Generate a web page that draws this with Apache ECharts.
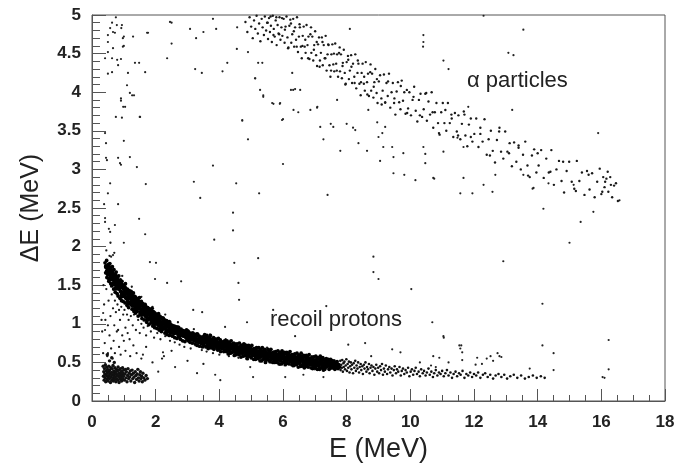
<!DOCTYPE html>
<html><head><meta charset="utf-8">
<script src="https://cdn.jsdelivr.net/npm/echarts@6/dist/echarts.min.js"></script>
<style>html,body{margin:0;padding:0;background:#fff}#c{width:695px;height:470px}</style>
</head><body><div id="c"></div>
<script>
// Axis ranges (MeV)
const xRange = [0, 18];
const yRange = [0, 5];
const xLabel = 'E (MeV)';
const yLabel = 'ΔE (MeV)';
const annotations = ['α particles', 'recoil protons'];

// recoil proton band, dense part [E, dE]
const protonCore = [
[0.41,1.79],[0.43,1.66],[0.44,1.75],[0.46,1.82],[0.47,1.60],[0.49,1.71],[0.50,1.64],[0.52,1.77],[0.53,1.55],[0.55,1.69],[0.56,1.78],[0.57,1.61],[0.59,1.52],[0.60,1.70],
[0.61,1.66],[0.62,1.49],[0.64,1.74],[0.65,1.57],[0.66,1.62],[0.68,1.45],[0.69,1.70],[0.70,1.53],[0.72,1.64],[0.73,1.41],[0.75,1.58],[0.76,1.67],[0.78,1.50],[0.79,1.39],[0.80,1.61],
[0.81,1.54],[0.82,1.36],[0.84,1.62],[0.85,1.45],[0.86,1.51],[0.88,1.33],[0.89,1.57],[0.90,1.42],[0.92,1.48],[0.93,1.30],[0.94,1.55],[0.96,1.39],[0.97,1.46],[0.98,1.29],[1.00,1.50],
[1.01,1.37],[1.03,1.46],[1.04,1.27],[1.05,1.52],[1.07,1.34],[1.08,1.41],[1.10,1.24],[1.11,1.45],[1.12,1.30],[1.14,1.38],[1.15,1.21],[1.17,1.43],[1.18,1.33],[1.19,1.27],[1.20,1.40],
[1.22,1.25],[1.23,1.42],[1.25,1.30],[1.26,1.19],[1.27,1.36],[1.29,1.27],[1.30,1.40],[1.32,1.16],[1.33,1.31],[1.34,1.24],[1.36,1.35],[1.37,1.14],[1.38,1.28],[1.40,1.21],
[1.41,1.33],[1.42,1.16],[1.44,1.26],[1.45,1.10],[1.46,1.30],[1.48,1.20],[1.49,1.34],[1.51,1.13],[1.52,1.23],[1.54,1.17],[1.55,1.29],[1.57,1.07],[1.58,1.19],[1.60,1.26],
[1.61,1.12],[1.63,1.22],[1.64,1.05],[1.66,1.16],[1.67,1.25],[1.69,1.09],[1.70,1.18],[1.72,1.02],[1.73,1.13],[1.75,1.21],[1.76,1.07],[1.78,1.15],[1.79,0.99],[1.80,1.19],
[1.82,1.09],[1.83,1.17],[1.85,1.01],[1.86,1.13],[1.88,1.06],[1.89,1.20],[1.91,0.97],[1.92,1.10],[1.94,1.03],[1.95,1.14],[1.97,0.95],[1.98,1.07],[2.00,1.12],
[2.01,1.00],[2.03,1.11],[2.04,0.94],[2.06,1.05],[2.08,0.98],[2.09,1.13],[2.11,0.92],[2.13,1.03],[2.14,0.97],[2.16,1.08],[2.18,0.90],[2.19,1.01],[2.21,1.06],[2.23,0.93],[2.24,1.02],
[2.26,0.96],[2.28,1.05],[2.29,0.88],[2.31,0.99],[2.33,0.93],[2.34,1.04],[2.36,0.86],[2.38,0.97],[2.40,0.91],[2.41,1.01],[2.43,0.85],[2.45,0.95],[2.47,0.99],[2.48,0.88],[2.50,0.93],
[2.52,0.98],[2.53,0.84],[2.55,0.92],[2.57,0.87],[2.59,0.97],[2.60,0.82],[2.62,0.93],[2.64,0.88],[2.65,0.96],[2.67,0.81],[2.69,0.90],[2.71,0.85],[2.72,0.95],[2.74,0.83],
[2.76,0.89],[2.78,0.80],[2.80,0.93],[2.81,0.85],[2.83,0.88],[2.85,0.78],[2.87,0.91],[2.88,0.84],[2.90,0.87],[2.92,0.77],[2.94,0.89],[2.95,0.82],[2.97,0.92],[2.99,0.80],
[3.01,0.85],[3.03,0.78],[3.05,0.89],[3.06,0.82],[3.08,0.76],[3.10,0.87],[3.12,0.80],[3.13,0.84],[3.15,0.75],[3.17,0.88],[3.19,0.81],[3.20,0.78],[3.22,0.86],[3.24,0.74],
[3.26,0.83],[3.28,0.77],[3.30,0.85],[3.31,0.72],[3.33,0.80],[3.35,0.76],[3.37,0.84],[3.38,0.71],[3.40,0.79],[3.42,0.82],[3.44,0.74],[3.45,0.78],[3.47,0.70],[3.49,0.83],
[3.51,0.82],[3.52,0.72],[3.54,0.86],[3.55,0.76],[3.56,0.83],[3.58,0.70],[3.59,0.79],[3.61,0.85],[3.62,0.73],[3.63,0.81],[3.65,0.68],[3.66,0.79],[3.68,0.71],[3.69,0.82],
[3.71,0.75],[3.72,0.85],[3.74,0.69],[3.75,0.79],[3.76,0.72],[3.78,0.80],[3.79,0.69],[3.80,0.75],[3.82,0.82],[3.83,0.67],[3.85,0.76],[3.86,0.71],[3.88,0.80],[3.89,0.72],
[3.91,0.78],[3.92,0.69],[3.93,0.77],[3.95,0.66],[3.96,0.74],[3.97,0.81],[3.99,0.67],[4.00,0.75],[4.02,0.70],[4.03,0.79],[4.04,0.64],[4.06,0.73],[4.08,0.76],[4.09,0.68],
[4.11,0.69],[4.13,0.77],[4.14,0.64],[4.15,0.73],[4.17,0.78],[4.18,0.66],[4.19,0.74],[4.21,0.70],[4.22,0.64],[4.24,0.78],[4.25,0.68],[4.27,0.74],[4.28,0.61],[4.30,0.76],
[4.31,0.76],[4.32,0.66],[4.34,0.71],[4.35,0.62],[4.37,0.78],[4.38,0.68],[4.40,0.73],[4.41,0.63],[4.42,0.71],[4.44,0.66],[4.45,0.75],[4.47,0.59],[4.48,0.73],[4.50,0.63],
[4.50,0.65],[4.52,0.73],[4.53,0.60],[4.55,0.69],[4.56,0.74],[4.58,0.62],[4.59,0.70],[4.60,0.66],[4.62,0.60],[4.63,0.75],[4.65,0.65],[4.66,0.70],[4.68,0.57],[4.69,0.72],
[4.71,0.72],[4.73,0.62],[4.74,0.67],[4.75,0.58],[4.77,0.74],[4.78,0.64],[4.79,0.69],[4.81,0.59],[4.82,0.67],[4.84,0.62],[4.85,0.72],[4.87,0.55],[4.88,0.69],[4.90,0.59],
[4.91,0.64],[4.92,0.72],[4.94,0.58],[4.95,0.67],[4.97,0.62],[4.98,0.69],[5.00,0.56],[5.01,0.65],[5.02,0.72],[5.04,0.59],[5.05,0.67],[5.07,0.62],[5.08,0.54],[5.10,0.67],
[5.11,0.59],[5.13,0.67],[5.14,0.54],[5.15,0.63],[5.17,0.69],[5.18,0.57],[5.19,0.65],[5.21,0.61],[5.22,0.55],[5.24,0.69],[5.25,0.59],[5.27,0.65],[5.28,0.52],[5.30,0.67],
[5.30,0.57],[5.32,0.61],[5.33,0.52],[5.35,0.69],[5.36,0.59],[5.38,0.64],[5.39,0.54],[5.40,0.62],[5.42,0.57],[5.43,0.67],[5.45,0.50],[5.46,0.64],[5.48,0.54],[5.49,0.60],
[5.51,0.59],[5.53,0.67],[5.54,0.53],[5.55,0.62],[5.57,0.57],[5.58,0.64],[5.59,0.51],[5.61,0.61],[5.62,0.67],[5.64,0.54],[5.65,0.62],[5.67,0.57],[5.68,0.50],[5.70,0.63],
[5.71,0.55],[5.72,0.63],[5.74,0.50],[5.75,0.58],[5.77,0.64],[5.78,0.52],[5.80,0.60],[5.81,0.56],[5.82,0.50],[5.84,0.65],[5.85,0.55],[5.87,0.61],[5.88,0.48],[5.90,0.63],
[5.91,0.62],[5.93,0.52],[5.94,0.57],[5.95,0.48],[5.97,0.65],[5.98,0.55],[5.99,0.60],[6.01,0.50],[6.02,0.58],[6.04,0.53],[6.05,0.63],[6.07,0.47],[6.08,0.61],[6.10,0.51],
[6.10,0.56],[6.12,0.63],[6.13,0.49],[6.15,0.58],[6.16,0.53],[6.18,0.61],[6.19,0.48],[6.20,0.57],[6.22,0.64],[6.23,0.51],[6.25,0.59],[6.26,0.54],[6.28,0.47],[6.29,0.60],
[6.31,0.51],[6.33,0.59],[6.34,0.46],[6.35,0.55],[6.37,0.61],[6.38,0.49],[6.39,0.57],[6.41,0.53],[6.42,0.47],[6.44,0.62],[6.45,0.52],[6.47,0.57],[6.48,0.44],[6.50,0.59],
[6.51,0.59],[6.52,0.49],[6.54,0.54],[6.55,0.45],[6.57,0.62],[6.58,0.52],[6.60,0.56],[6.61,0.46],[6.62,0.54],[6.64,0.49],[6.65,0.59],[6.67,0.43],[6.68,0.57],[6.70,0.47],
[6.71,0.52],[6.73,0.59],[6.74,0.45],[6.75,0.54],[6.77,0.49],[6.78,0.57],[6.79,0.44],[6.81,0.53],[6.82,0.60],[6.84,0.47],[6.85,0.55],[6.87,0.50],[6.88,0.43],[6.90,0.55],
[6.90,0.47],[6.92,0.55],[6.93,0.42],[6.95,0.51],[6.96,0.57],[6.98,0.45],[6.99,0.53],[7.00,0.49],[7.02,0.43],[7.03,0.58],[7.05,0.48],[7.06,0.54],[7.08,0.41],[7.09,0.56],
[7.11,0.55],[7.13,0.45],[7.14,0.50],[7.15,0.41],[7.17,0.58],[7.18,0.48],[7.19,0.53],[7.21,0.43],[7.22,0.51],[7.24,0.46],[7.25,0.56],[7.27,0.40],[7.28,0.53],[7.30,0.44],
[7.31,0.41],[7.32,0.54],[7.34,0.48],[7.36,0.55],[7.37,0.44],[7.39,0.51],[7.41,0.46],[7.43,0.54],[7.45,0.41],[7.47,0.50],[7.48,0.45],
[7.51,0.53],[7.53,0.43],[7.55,0.49],[7.58,0.46],[7.60,0.52],[7.63,0.41],[7.65,0.48],[7.68,0.45],[7.70,0.51],[7.73,0.42],[7.75,0.47],[7.78,0.44]
];

// ridge of the proton band (densest events)
const protonRidge = [
[0.45,1.74],[0.50,1.65],[0.55,1.65],[0.60,1.66],[0.65,1.58],[0.70,1.52],[0.75,1.56],[0.80,1.51],[0.85,1.46],[0.90,1.50],[0.95,1.39],[1.00,1.41],
[1.05,1.40],[1.10,1.33],[1.15,1.34],[1.20,1.36],[1.25,1.29],[1.30,1.24],[1.35,1.29],[1.40,1.25],[1.45,1.20],[1.50,1.25],[1.55,1.15],[1.60,1.18],
[1.65,1.18],[1.70,1.11],[1.75,1.13],[1.80,1.15],[1.85,1.09],[1.90,1.04],[1.95,1.10],[2.00,1.06],[2.05,1.02],[2.10,1.08],[2.15,0.98],[2.20,1.01],
[2.25,1.01],[2.30,0.95],[2.35,0.97],[2.40,1.00],[2.45,0.94],[2.50,0.90],[2.55,0.96],[2.60,0.93],[2.65,0.89],[2.70,0.95],[2.75,0.86],[2.80,0.90],
[2.85,0.90],[2.90,0.85],[2.95,0.87],[3.00,0.90],[3.05,0.84],[3.10,0.81],[3.15,0.87],[3.20,0.84],[3.25,0.80],[3.30,0.86],[3.35,0.77],[3.40,0.81],
[3.45,0.82],[3.50,0.76],[3.55,0.78],[3.60,0.82],[3.65,0.76],[3.70,0.72],[3.75,0.79],[3.80,0.76],[3.85,0.73],[3.90,0.79],[3.95,0.70],[4.00,0.74],
[4.05,0.75],[4.10,0.69],[4.15,0.72],[4.20,0.75],[4.25,0.70],[4.30,0.66],[4.35,0.73],[4.40,0.70],[4.45,0.67],[4.50,0.73],[4.55,0.64],[4.60,0.68],
[4.65,0.69],[4.70,0.63],[4.75,0.66],[4.80,0.69],[4.85,0.64],[4.90,0.60],[4.95,0.67],[5.00,0.64],[5.05,0.61],[5.10,0.67],[5.15,0.58],[5.20,0.62],
[5.25,0.63],[5.30,0.58],[5.35,0.60],[5.40,0.64],[5.45,0.59],[5.50,0.55],[5.55,0.62],[5.60,0.60],[5.65,0.56],[5.70,0.62],[5.75,0.54],[5.80,0.57],
[5.85,0.59],[5.90,0.54],[5.95,0.56],[6.00,0.60],[6.05,0.55],[6.10,0.52],[6.15,0.58],[6.20,0.56],[6.25,0.53],[6.30,0.59],[6.35,0.51],[6.40,0.54],
[6.45,0.56],[6.50,0.50],[6.55,0.53],[6.60,0.57],[6.65,0.51],[6.70,0.48],[6.75,0.54],[6.80,0.52],[6.85,0.49],[6.90,0.55],[6.95,0.47],[7.00,0.50],
[7.05,0.52],[7.10,0.47],[7.15,0.49],[7.20,0.53],[7.25,0.48],[7.30,0.45],[7.35,0.51],[7.40,0.49],[7.45,0.46],[7.50,0.52],[7.55,0.44],[7.60,0.47],[7.65,0.49],[7.70,0.44],
[0.48,1.68],[0.58,1.66],[0.68,1.52],[0.78,1.52],[0.88,1.50],[0.98,1.40],[1.08,1.34],[1.18,1.38],[1.28,1.24],[1.38,1.27],[1.48,1.21],[1.58,1.15],
[1.68,1.12],[1.78,1.14],[1.88,1.04],[1.98,1.06],[2.08,1.07],[2.18,0.99],[2.28,0.95],[2.38,1.01],[2.48,0.89],[2.58,0.94],[2.68,0.90],[2.78,0.87],
[2.88,0.86],[2.98,0.89],[3.08,0.80],[3.18,0.84],[3.28,0.85],[3.38,0.79],[3.48,0.76],[3.58,0.83],[3.68,0.72],[3.78,0.77],[3.88,0.74],[3.98,0.71],
[4.08,0.70],[4.18,0.74],[4.28,0.66],[4.38,0.70],[4.48,0.72],[4.58,0.66],[4.68,0.63],[4.78,0.70],[4.88,0.59],[4.98,0.65],[5.08,0.62],[5.18,0.59],
[5.28,0.59],[5.38,0.63],[5.48,0.55],[5.58,0.60],[5.68,0.61],[5.78,0.56],[5.88,0.54],[5.98,0.61],[6.08,0.51],[6.18,0.57],[6.28,0.55],[6.38,0.52],
[6.48,0.51],[6.58,0.56],[6.68,0.47],[6.78,0.52],[6.88,0.54],[6.98,0.49],[7.08,0.47],[7.18,0.54],[7.28,0.44],[7.38,0.50],[7.48,0.48],[7.58,0.45],[7.68,0.45],
[0.52,1.74],[0.62,1.67],[0.72,1.63],[0.82,1.55],[0.92,1.51],[1.02,1.47],[1.12,1.41],[1.22,1.38],[1.32,1.35],[1.42,1.29],[1.52,1.27],[1.62,1.24],
[1.72,1.20],[1.82,1.18],[1.92,1.15],[2.02,1.10],[2.12,1.09],[2.22,1.07],[2.32,1.03],[2.42,1.02],
[0.57,1.71],[0.67,1.64],[0.77,1.59],[0.87,1.54],[0.97,1.48],[1.07,1.44],[1.17,1.40],[1.27,1.35],[1.37,1.32],[1.47,1.28],[1.57,1.24],[1.67,1.22],
[1.77,1.19],[1.87,1.15],[1.97,1.13],
[0.55,1.58],[0.75,1.46],[0.95,1.36],[1.15,1.27],[1.35,1.19],[1.55,1.12],[1.75,1.06],[1.95,1.00],[2.15,0.94],[2.35,0.90]
];

// points spread around the proton band and the diffuse region below it
const protonHalo = [
[0.45,1.45],[0.52,1.30],[0.55,1.88],[0.58,1.10],[0.62,1.38],[0.66,1.20],[0.70,0.98],[0.72,1.30],[0.75,1.15],[0.80,1.25],[0.82,0.92],[0.85,1.18],[0.88,1.05],[0.92,1.22],[0.95,0.85],[0.98,1.12],
[1.02,1.18],[1.05,0.95],[1.10,1.12],[1.15,1.05],[1.18,0.80],[1.22,1.10],[1.28,0.98],[1.32,1.12],[1.38,0.92],[1.45,1.05],[1.50,0.88],[1.55,1.00],[1.62,0.95],[1.70,0.85],[1.75,0.97],[1.85,0.90],
[1.95,0.82],[2.05,0.88],[2.15,0.80],[2.30,0.84],[2.45,0.78],[2.60,0.76],[2.75,0.73],[2.90,0.70],[3.10,0.68],[3.25,0.72],[3.45,0.66],[3.60,0.64],[3.80,0.62],[4.00,0.60],[4.30,0.58],[4.60,0.56],
[4.90,0.54],[5.30,0.52],[5.60,0.50],[5.90,0.47],[6.30,0.45],[6.60,0.44],[7.00,0.41],
[0.95,1.62],[1.25,1.48],[1.55,1.35],[1.90,1.22],[2.30,1.12],[2.70,1.02],[3.20,0.93],[3.70,0.86],[4.20,0.80],[4.80,0.74],[5.50,0.69],[6.20,0.63],[6.90,0.58],[7.50,0.55],
[0.35,0.62],[0.40,0.75],[0.48,0.58],[0.55,0.85],[0.60,0.68],[0.65,0.55],[0.68,0.78],[0.72,0.62],[0.78,0.90],[0.85,0.70],[0.90,0.60],[1.00,0.78],[1.05,0.65],[1.12,0.88],[1.20,0.58],[1.30,0.72],
[1.40,0.62],[1.55,0.55],[1.70,0.70],[1.90,0.50],[2.20,0.55],[2.50,0.65],[3.00,0.52],[3.50,0.48],[0.30,1.05],[0.32,0.90],[0.38,1.25],[0.42,1.05],[0.50,0.98],[0.36,1.50],[0.45,1.95],[0.58,2.05],[0.70,1.92]
];

// proton band, sparser high-energy tail
const protonTail = [
[7.80,0.52],[7.81,0.40],[7.83,0.47],[7.85,0.43],[7.86,0.53],[7.88,0.38],[7.90,0.49],[7.91,0.44],[7.93,0.51],[7.95,0.41],[7.97,0.46],[7.99,0.54],[8.01,0.39],[8.03,0.48],[8.05,0.43],[8.07,0.51],
[8.09,0.37],[8.11,0.45],[8.13,0.50],[8.15,0.41],[8.17,0.47],[8.20,0.36],[8.22,0.49],[8.24,0.43],[8.27,0.52],[8.29,0.39],[8.31,0.46],[8.34,0.42],[8.36,0.50],[8.39,0.37],[8.41,0.44],[8.44,0.48],
[8.46,0.40],[8.49,0.45],[8.51,0.35],[8.54,0.47],[8.56,0.42],[8.59,0.50],[8.62,0.38],[8.64,0.44],[8.67,0.41],[8.70,0.48],[8.72,0.36],[8.75,0.43],[8.78,0.46],[8.81,0.39],[8.84,0.44],[8.87,0.34],
[8.90,0.42],[8.93,0.47],[8.96,0.38],[8.99,0.43],
[9.02,0.36],[9.05,0.45],[9.08,0.40],[9.11,0.48],[9.14,0.34],[9.17,0.42],[9.20,0.38],[9.23,0.46],[9.27,0.35],[9.30,0.41],[9.34,0.44],[9.37,0.37],[9.41,0.42],[9.44,0.33],[9.48,0.40],[9.51,0.45],
[9.55,0.36],[9.58,0.41],[9.62,0.38],[9.66,0.44],[9.70,0.33],[9.73,0.39],[9.77,0.42],[9.81,0.35],[9.85,0.40],[9.89,0.37],[9.93,0.43],[9.97,0.32],
[10.01,0.38],[10.05,0.41],[10.09,0.34],[10.13,0.39],[10.17,0.43],[10.21,0.35],[10.26,0.38],[10.30,0.32],[10.34,0.41],[10.39,0.36],[10.43,0.39],[10.48,0.33],[10.52,0.37],[10.57,0.42],[10.61,0.34],
[10.66,0.38],[10.71,0.31],[10.75,0.36],[10.80,0.40],[10.85,0.33],[10.90,0.37],[10.95,0.35],
[11.00,0.39],[11.05,0.32],[11.10,0.36],[11.15,0.40],[11.20,0.33],[11.26,0.37],[11.31,0.30],[11.36,0.35],[11.42,0.38],[11.47,0.32],[11.53,0.36],[11.58,0.34],[11.64,0.39],[11.70,0.30],[11.76,0.35],
[11.82,0.33],[11.88,0.37],[11.94,0.31],[12.00,0.35],[12.07,0.33],
[12.13,0.37],[12.20,0.30],[12.28,0.34],[12.35,0.36],[12.43,0.31],[12.51,0.34],[12.60,0.29],[12.68,0.33],[12.77,0.35],[12.86,0.31],[12.95,0.34],[13.04,0.29],[13.14,0.32],[13.25,0.34],[13.36,0.30],
[13.48,0.33],[13.60,0.29],[13.72,0.31],[13.85,0.33],[13.97,0.30],[14.10,0.32],[14.22,0.30]
];

// low-energy blob near E < 1.8 MeV
const lowBlob = [
[0.35,0.45],[0.36,0.32],[0.37,0.38],[0.38,0.27],[0.39,0.42],[0.40,0.35],[0.41,0.30],[0.42,0.47],[0.43,0.25],[0.44,0.39],[0.45,0.33],[0.46,0.44],[0.47,0.28],[0.48,0.36],[0.49,0.41],[0.50,0.31],
[0.51,0.26],[0.52,0.38],[0.53,0.45],[0.54,0.33],[0.55,0.29],[0.56,0.40],[0.57,0.35],[0.58,0.24],[0.59,0.43],[0.60,0.31],[0.61,0.37],[0.62,0.27],[0.63,0.42],[0.64,0.34],[0.65,0.30],[0.66,0.46],
[0.67,0.26],[0.68,0.39],[0.69,0.33],[0.70,0.36],[0.71,0.28],[0.72,0.43],[0.73,0.31],[0.74,0.38],[0.75,0.25],[0.76,0.35],[0.77,0.41],[0.78,0.29],[0.79,0.33],[0.80,0.39],[0.81,0.27],[0.82,0.44],
[0.83,0.32],[0.84,0.36],[0.85,0.24],[0.86,0.40],[0.87,0.30],[0.88,0.34],[0.89,0.42],[0.90,0.28],[0.91,0.37],[0.92,0.31],[0.93,0.26],[0.94,0.39],[0.95,0.34],[0.96,0.43],[0.97,0.29],[0.98,0.36],
[0.99,0.32],[1.00,0.40],[1.02,0.27],[1.04,0.35],[1.05,0.41],[1.07,0.30],[1.08,0.38],[1.10,0.25],[1.12,0.33],[1.13,0.42],[1.15,0.29],[1.17,0.36],[1.18,0.31],[1.20,0.39],[1.22,0.26],[1.24,0.34],
[1.26,0.40],[1.28,0.29],[1.30,0.36],[1.32,0.31],[1.34,0.24],[1.36,0.38],[1.38,0.33],[1.40,0.28],[1.42,0.35],[1.44,0.41],[1.46,0.30],[1.48,0.26],[1.50,0.34],[1.52,0.38],[1.54,0.29],[1.56,0.32],
[1.58,0.25],[1.60,0.36],[1.63,0.30],[1.66,0.27],[1.70,0.33],[1.74,0.29],[0.55,0.52],[0.62,0.56],[0.70,0.50],[0.48,0.60]
];

// alpha particle band
const alphaBand = [
[4.82,4.91],[4.88,4.78],[4.95,4.97],[5.00,4.85],[5.05,4.70],[5.09,4.93],[5.13,4.82],[5.17,4.99],[5.21,4.76],[5.25,4.89],[5.29,4.66],[5.33,4.95],[5.36,4.84],[5.40,4.74],[5.43,4.98],[5.47,4.80],
[5.50,4.90],[5.53,4.69],[5.56,4.96],[5.59,4.78],[5.62,4.86],[5.65,4.65],[5.68,4.99],[5.71,4.82],[5.74,4.72],[5.77,4.93],[5.80,4.61],[5.83,4.87],[5.86,4.76],[5.89,4.97],[5.92,4.68],[5.95,4.84],[5.98,4.73],
[6.02,4.95],[6.05,4.64],[6.08,4.85],[6.11,4.98],[6.14,4.71],[6.17,4.58],[6.20,4.86],[6.23,4.94],[6.26,4.64],[6.29,4.75],[6.32,4.95],[6.35,4.59],[6.38,4.84],[6.41,4.68],[6.44,4.97],[6.47,4.52],
[6.50,4.72],[6.53,4.84],[6.56,4.59],[6.59,4.44],[6.62,4.73],[6.65,4.85],[6.68,4.59],[6.71,4.51],[6.74,4.87],[6.77,4.61],[6.80,4.72],[6.83,4.43],[6.86,4.75],[6.89,4.51],[6.92,4.72],[6.95,4.41],[6.98,4.61],
[7.01,4.79],[7.04,4.48],[7.07,4.34],[7.10,4.62],[7.13,4.71],[7.16,4.41],[7.19,4.51],[7.22,4.71],[7.25,4.35],[7.28,4.61],[7.31,4.44],[7.34,4.73],[7.37,4.28],[7.40,4.49],[7.43,4.61],[7.46,4.35],
[7.49,4.20],[7.52,4.49],[7.55,4.62],[7.58,4.36],[7.61,4.27],[7.64,4.63],[7.67,4.37],[7.70,4.49],[7.73,4.20],[7.76,4.51],[7.79,4.27],[7.82,4.49],[7.85,4.18],[7.88,4.38],[7.91,4.55],[7.94,4.25],[7.97,4.11],
[8.00,4.39],[8.04,4.47],[8.07,4.17],[8.10,4.28],[8.14,4.48],[8.17,4.12],[8.20,4.37],[8.24,4.20],[8.27,4.49],[8.30,4.05],[8.34,4.25],[8.37,4.37],[8.40,4.11],[8.44,3.96],[8.47,4.25],[8.50,4.37],
[8.54,4.11],[8.57,4.02],[8.60,4.39],[8.64,4.13],[8.67,4.24],[8.70,3.95],[8.74,4.26],[8.77,4.02],[8.80,4.24],[8.84,3.93],[8.87,4.13],[8.90,4.30],[8.94,3.99],[8.97,3.86],
[9.01,4.14],[9.05,4.22],[9.09,3.92],[9.13,4.02],[9.17,4.23],[9.21,3.87],[9.25,4.12],[9.29,3.95],[9.33,4.24],[9.37,3.80],[9.41,4.00],[9.45,4.12],[9.49,3.86],[9.53,3.71],[9.57,4.01],[9.61,4.13],
[9.65,3.87],[9.69,3.78],[9.73,4.15],[9.77,3.89],[9.81,4.00],[9.85,3.72],[9.89,4.03],[9.93,3.79],[9.97,4.00],
[10.02,3.70],[10.07,3.90],[10.12,4.07],[10.17,3.76],[10.22,3.62],[10.27,3.90],[10.32,3.98],[10.37,3.68],[10.42,3.78],[10.47,3.98],[10.52,3.63],[10.57,3.88],[10.62,3.71],[10.67,4.00],[10.72,3.54],
[10.77,3.74],[10.82,3.86],[10.87,3.60],[10.92,3.45],[10.97,3.74],
[11.02,3.86],[11.07,3.60],[11.13,3.50],[11.18,3.86],[11.24,3.60],[11.29,3.71],[11.35,3.42],[11.40,3.73],[11.46,3.49],[11.51,3.70],[11.57,3.39],[11.62,3.59],[11.68,3.75],[11.73,3.44],[11.79,3.30],
[11.84,3.58],[11.90,3.66],[11.95,3.36],
[12.01,3.46],[12.07,3.66],[12.14,3.29],[12.20,3.54],[12.27,3.36],[12.33,3.65],[12.40,3.19],[12.46,3.39],[12.53,3.50],[12.59,3.24],[12.66,3.09],[12.72,3.38],[12.79,3.49],[12.85,3.23],[12.92,3.14],[12.98,3.49],
[13.05,3.23],[13.12,3.34],[13.19,3.04],[13.26,3.35],[13.33,3.10],[13.40,3.31],[13.47,3.00],[13.54,3.19],[13.61,3.36],[13.68,3.05],[13.75,2.90],[13.82,3.18],[13.89,3.26],[13.96,2.96],
[14.03,3.05],[14.11,3.25],[14.19,2.89],[14.27,3.14],[14.35,2.96],[14.43,3.25],[14.51,2.80],[14.59,3.00],[14.67,3.11],[14.75,2.85],[14.83,2.70],[14.91,2.98],[14.99,3.10],
[15.07,2.84],[15.15,2.75],[15.23,3.11],[15.31,2.85],[15.39,2.96],[15.47,2.67],[15.55,2.98],[15.63,2.74],[15.71,2.95],[15.79,2.64],[15.87,2.84],[15.95,3.01],[16.03,2.71],[16.10,2.77],[16.16,2.88],
[16.22,2.71],[16.28,2.90],[16.34,2.64],[16.40,2.79],[16.46,2.82],[16.52,2.59],
[5.52,4.90],[5.61,4.98],[5.70,4.74],[5.79,4.97],[5.88,4.75],[5.97,4.96],[6.06,4.81],[6.16,4.57],[6.25,4.89],[6.34,4.79],[6.43,4.59],[6.52,4.88],[6.61,4.60],[6.70,4.68],[6.79,4.44],[6.88,4.84],
[6.97,4.55],[7.06,4.65],[7.15,4.33],[7.24,4.65],[7.33,4.44],[7.42,4.62],[7.51,4.28],[7.60,4.50],[7.69,4.28],[7.78,4.58],[7.87,4.34],[7.96,4.10],[8.05,4.42],[8.15,4.33],[8.25,4.12],[8.35,4.41],
[8.45,4.13],[8.55,4.20],[8.65,3.97],[8.75,4.36],[8.85,4.07],[8.95,4.17],[9.10,3.84],[9.30,4.14],[9.50,3.92],[9.70,4.08],[9.90,3.73],[10.10,3.94],[10.30,3.70],[10.50,3.99],[10.70,3.74],[10.90,3.47],
[11.10,3.77],[11.30,3.66],[11.50,3.44],[11.70,3.71],[11.90,3.42],[12.20,3.46],[12.50,3.18],[12.80,3.54],[13.10,3.21],[13.40,3.28],[13.70,2.92],[14.00,3.21],[14.40,2.97],[14.80,3.10],[15.20,2.72],
[15.60,2.93],[16.00,2.68],[16.20,2.97],[16.12,2.84],[16.30,2.80],[16.06,2.90]
];

// isolated events scattered over the plane
const strayPoints = [
[2.45,4.91],[1.73,4.77],[2.50,4.63],[2.36,4.44],[3.08,4.82],[3.50,4.78],[3.90,4.82],[3.80,4.95],[3.27,4.70],[4.25,4.38],[3.24,4.30],[3.45,4.25],[4.10,4.27],[4.55,4.56],[5.12,4.18],[5.22,4.38],
[5.38,3.94],[5.70,3.85],[5.90,3.85],[4.72,3.63],[4.90,3.39],[6.00,3.65],[6.33,3.77],[6.48,3.74],[6.25,4.03],[6.38,4.04],[7.07,3.80],[7.17,3.55],[7.50,3.59],[7.27,3.39],[7.80,3.24],[8.00,3.59],
[8.27,3.51],[8.37,3.34],[8.64,3.24],[9.00,3.42],[9.15,3.29],[9.05,3.11],[8.10,4.82],[6.00,3.07],[3.80,3.05],[3.20,2.84],[4.53,2.82],[5.25,2.69],[7.40,2.67],[1.69,2.81],[1.41,3.03],[1.19,3.16],
[1.50,3.68],[1.26,3.96],[1.04,3.81],[1.67,4.26],[1.48,4.38],[1.35,4.38],[1.29,4.72],[0.97,4.70],[0.97,4.59],[1.76,4.77],[0.41,3.47],[0.44,3.34],[0.44,3.15],[0.88,3.08],[0.57,2.82],[1.00,3.37],
[0.75,4.97],[0.63,4.90],[0.78,4.87],[0.94,4.87],[0.57,4.83],[0.66,4.78],[0.92,4.83],[0.50,4.74],[0.72,4.77],[1.00,4.72],[0.50,4.65],[0.66,4.57],[1.00,4.60],[0.50,4.52],[0.41,4.44],[0.63,4.44],
[0.79,4.42],[0.91,4.43],[0.82,4.35],[0.63,4.26],[1.13,4.25],[2.50,4.90],[0.50,4.24],[1.10,4.09],[1.19,3.99],[1.32,3.96],[0.91,3.92],[0.91,3.89],[0.98,3.81],[0.75,3.68],[0.94,3.67],[1.51,3.68],
[0.47,3.12],[0.82,3.15],[0.91,3.06],[3.40,2.63],[0.50,2.69],[0.38,2.55],[0.82,2.55],[1.48,2.36],[0.41,2.37],[0.41,2.32],[0.72,2.28],[0.53,2.23],[4.43,2.44],[4.43,2.21],[1.67,2.16],[3.84,2.09],
[1.00,2.05],[0.66,1.89],[0.60,1.87],[1.82,1.80],[2.01,1.79],[4.47,1.79],[5.22,1.85],[8.84,1.87],[8.84,1.67],[9.00,1.58],[2.36,1.53],[2.80,1.55],[1.98,1.58],[4.60,1.53],[4.62,1.31],[3.18,1.18],
[3.46,1.15],[4.87,1.02],[4.18,0.96],[5.69,1.18],[6.38,0.84],[7.36,1.23],[8.05,0.73],[8.58,0.75],[8.77,0.58],[3.30,0.36],[3.87,0.34],[4.03,0.27],[2.61,0.44],[2.23,0.63],[2.26,0.58],[1.60,0.60],
[2.08,0.38],[5.06,0.31],[4.97,0.44],[6.07,0.31],[6.64,0.34],[7.27,0.31],[0.57,2.19],[0.35,1.14],[0.41,0.92],[0.50,0.62],
[15.35,2.32],[15.00,2.05],[12.92,1.81],[10.03,1.45],[14.15,1.26],[10.69,1.02],[11.04,0.84],[16.23,0.79],[9.43,0.67],[9.69,0.63],[14.50,0.62],[11.54,0.72],[11.57,0.68],[11.63,0.63],[10.72,0.58],
[10.91,0.56],[12.10,0.56],[12.74,0.62],[12.52,0.58],[12.86,0.57],[11.63,0.53],[16.04,0.31],[16.10,0.30],[16.23,0.41],
[12.30,4.99],[10.41,4.74],[10.41,4.65],[10.40,4.59],[13.55,4.81],[13.08,4.51],[13.24,4.48],[11.04,4.41],[11.20,4.30],[11.82,3.81],[13.20,3.77],[15.90,3.47],[11.57,2.69],[11.95,2.69],[12.58,2.71],
[12.30,2.80],[12.67,2.93],[14.18,2.49],[15.75,2.45],[16.57,2.60],[13.87,2.76],[14.34,2.82],[15.13,2.80],[13.55,2.93],[11.67,2.89],[10.72,2.89],[10.16,2.86],[9.81,2.93],[9.47,2.95],[10.47,3.08],
[9.43,3.29],[9.78,3.21],[10.41,3.29],[11.04,3.23],[11.48,3.41],[11.67,3.29],[9.12,3.47],[9.21,3.55],[9.47,3.16],[10.47,3.20],[10.75,2.88],[13.84,2.75],
[4.56,4.84],[4.90,4.52],[5.13,4.18],[5.35,4.38],[6.29,4.25],[6.32,4.03],[6.54,4.03],[5.66,3.86],[5.91,3.86],[6.86,3.77],[5.38,3.96],[7.08,3.81],[7.70,3.90],[4.72,3.64],[5.97,3.64],[7.58,3.55],
[8.20,3.54],[8.68,3.77],[8.96,3.61],[9.21,3.86],[5.28,4.03],
[11.60,0.72],[11.05,0.82],[10.65,0.46],[11.20,0.50],[12.05,0.47],[12.25,0.48],[12.40,0.55],[12.60,0.52],[12.80,0.58],[10.30,0.50],[10.80,0.44],[13.75,0.42],[14.50,0.40],[14.15,0.72]
];

const chart = echarts.init(document.getElementById('c'), null, {renderer: 'canvas'});
const FONT = 'Liberation Sans, Arial, Helvetica, sans-serif';
const dots = (name, data, size, color) => ({
  type: 'scatter', name, data, symbol: 'circle', symbolSize: size,
  itemStyle: {color: color, opacity: 1}, silent: true, animation: false, large: false
});

chart.setOption({
  animation: false,
  backgroundColor: '#fff',
  grid: {left: 92, right: 30, top: 15, bottom: 69, show: true, borderColor: '#555', borderWidth: 1, backgroundColor: 'transparent'},
  xAxis: {
    type: 'value', min: xRange[0], max: xRange[1], interval: 2,
    name: xLabel, nameLocation: 'middle', nameGap: 34,
    nameTextStyle: {fontSize: 27, color: '#222', fontFamily: FONT},
    axisLine: {show: true, lineStyle: {color: '#555', width: 1}},
    axisTick: {show: true, inside: true, length: 12, lineStyle: {color: '#555'}},
    minorTick: {show: true, splitNumber: 4, length: 6, lineStyle: {color: '#555'}},
    axisLabel: {fontSize: 17, fontWeight: 'bold', color: '#222', fontFamily: FONT, margin: 13},
    splitLine: {show: false}, minorSplitLine: {show: false}
  },
  yAxis: {
    type: 'value', min: yRange[0], max: yRange[1], interval: 0.5,
    name: yLabel, nameLocation: 'middle', nameGap: 48, nameRotate: 90,
    nameTextStyle: {fontSize: 25, color: '#222', fontFamily: FONT},
    axisLine: {show: true, lineStyle: {color: '#555', width: 1}},
    axisTick: {show: true, inside: true, length: 14, lineStyle: {color: '#555'}},
    minorTick: {show: true, splitNumber: 5, length: 8, lineStyle: {color: '#555'}},
    axisLabel: {fontSize: 17, fontWeight: 'bold', color: '#222', fontFamily: FONT, margin: 11},
    splitLine: {show: false}, minorSplitLine: {show: false}
  },
  graphic: [
    {type: 'text', left: 467, top: 70, style: {text: annotations[0], font: '22px ' + FONT, fill: '#222'}},
    {type: 'text', left: 270, top: 309, style: {text: annotations[1], font: '22px ' + FONT, fill: '#222'}}
  ],
  series: [
    dots('stray', strayPoints, 2.2, '#222'),
    dots('alpha', alphaBand, 2.4, '#1a1a1a'),
    dots('halo', protonHalo, 2.3, '#1a1a1a'),
    dots('tail', protonTail, 2.6, '#111'),
    dots('blob', lowBlob, 3.4, '#111'),
    dots('core', protonCore, 3.8, '#000'),
    dots('ridge', protonRidge, 5, '#000')
  ]
});
</script>
</body></html>
